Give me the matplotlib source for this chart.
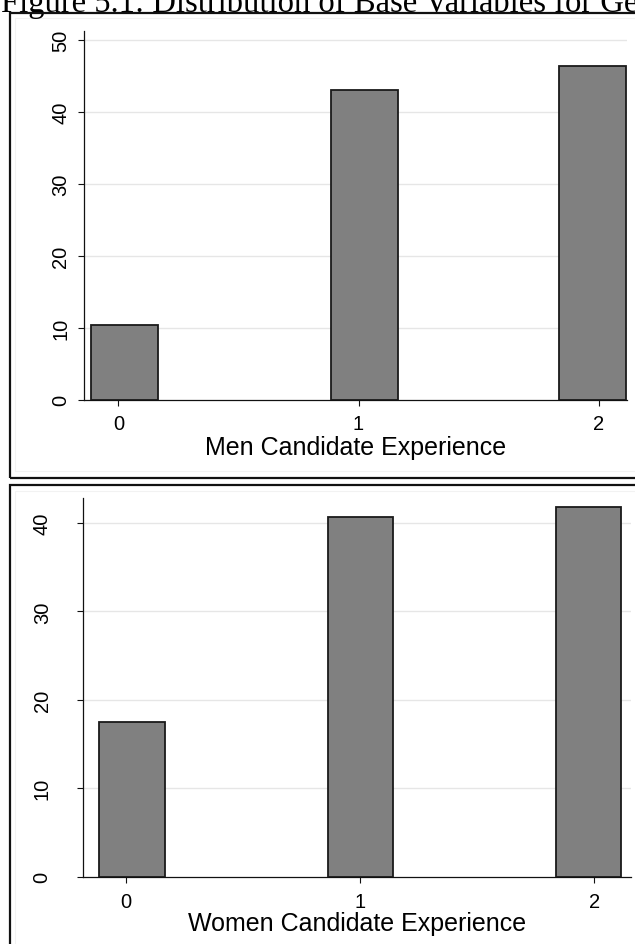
import matplotlib
matplotlib.use("Agg")
import matplotlib.pyplot as plt
from matplotlib.patches import Rectangle

# Percent of candidates by experience level
experience_levels = [0, 1, 2]
tick_labels = ["0", "1", "2"]

men_bin_centers = [0.026, 1.026, 1.975]
men_percent = [10.3, 43.1, 46.4]

women_bin_centers = [0.025, 1.001, 1.976]
women_percent = [17.5, 40.7, 41.8]

men_yticks = [0, 10, 20, 30, 40, 50]
women_yticks = [0, 10, 20, 30, 40]

title_text = "Figure 5.1: Distribution of Base Variables for Gender"
men_label = "Men Candidate Experience"
women_label = "Women Candidate Experience"

W, H = 635, 945
DPI = 100
fig = plt.figure(figsize=(W / DPI, H / DPI), dpi=DPI)
fig.patch.set_facecolor("white")

plt.rcParams["font.family"] = ["Liberation Sans", "DejaVu Sans"]

BAR_FACE = "#808080"
BAR_EDGE = "#1a1a1a"
GRID = "#e6e6e6"
BAR_WIDTH = 0.28
TICK_SIZE = 14.5
LABEL_SIZE = 18


def px_rect(left, top, right, bottom):
    """Convert a pixel box (origin top-left) into figure-fraction axes rect."""
    return [left / W, 1 - bottom / H, (right - left) / W, (bottom - top) / H]


def panel(rect, centers, values, yticks, xlim, ylim, xlabel, ypad, xlabelpad):
    ax = fig.add_axes(rect)
    ax.set_facecolor("white")
    ax.bar(centers, values, width=BAR_WIDTH, color=BAR_FACE,
           edgecolor=BAR_EDGE, linewidth=1.3, zorder=3)
    ax.set_xlim(*xlim)
    ax.set_ylim(*ylim)
    ax.set_xticks(experience_levels)
    ax.set_xticklabels(tick_labels)
    ax.set_yticks(yticks)
    ax.set_yticklabels([str(v) for v in yticks], rotation=90, va="center")
    for v in yticks[1:]:
        ax.axhline(v, color=GRID, linewidth=1.0, zorder=1)
    for side in ("top", "right"):
        ax.spines[side].set_visible(False)
    for side in ("left", "bottom"):
        ax.spines[side].set_color("#111111")
        ax.spines[side].set_linewidth(0.9)
    ax.tick_params(axis="y", length=4.3, width=0.8, color="#111111",
                   labelsize=TICK_SIZE, pad=ypad)
    ax.tick_params(axis="x", length=4.3, width=0.8, color="#111111",
                   labelsize=TICK_SIZE, pad=6.5)
    ax.set_xlabel(xlabel, fontsize=LABEL_SIZE, labelpad=xlabelpad)
    return ax


# Upper panel: men
panel(px_rect(84, 31.7, 627, 400.5), men_bin_centers, men_percent,
      men_yticks, (-0.143, 2.118), (0, 51.3), men_label, ypad=5.5,
      xlabelpad=1)

# Lower panel: women
panel(px_rect(82.7, 499.3, 631, 877.7), women_bin_centers, women_percent,
      women_yticks, (-0.185, 2.157), (0, 42.8), women_label, ypad=18,
      xlabelpad=0.5)

# Graph region frames around each panel
for (l, t, r, b) in [(10, 14, 700, 478.5), (10, 486.5, 700, 1000)]:
    x0, y0, w, h = px_rect(l, t, r, b)
    fig.add_artist(Rectangle((x0, y0), w, h, transform=fig.transFigure,
                             fill=False, edgecolor="#111111", linewidth=1.6,
                             zorder=5))
    x0, y0, w, h = px_rect(l + 5, t + 5, r, b - 7)
    fig.add_artist(Rectangle((x0, y0), w, h, transform=fig.transFigure,
                             fill=False, edgecolor="#f2f2f2", linewidth=0.8,
                             zorder=0))

# Caption above the panels
fig.text(1 / W, 1 - 12 / H, title_text, fontsize=23.5,
         family=["Liberation Serif", "DejaVu Serif"], ha="left",
         va="baseline")

fig.savefig("out.png", dpi=DPI, facecolor="white")
